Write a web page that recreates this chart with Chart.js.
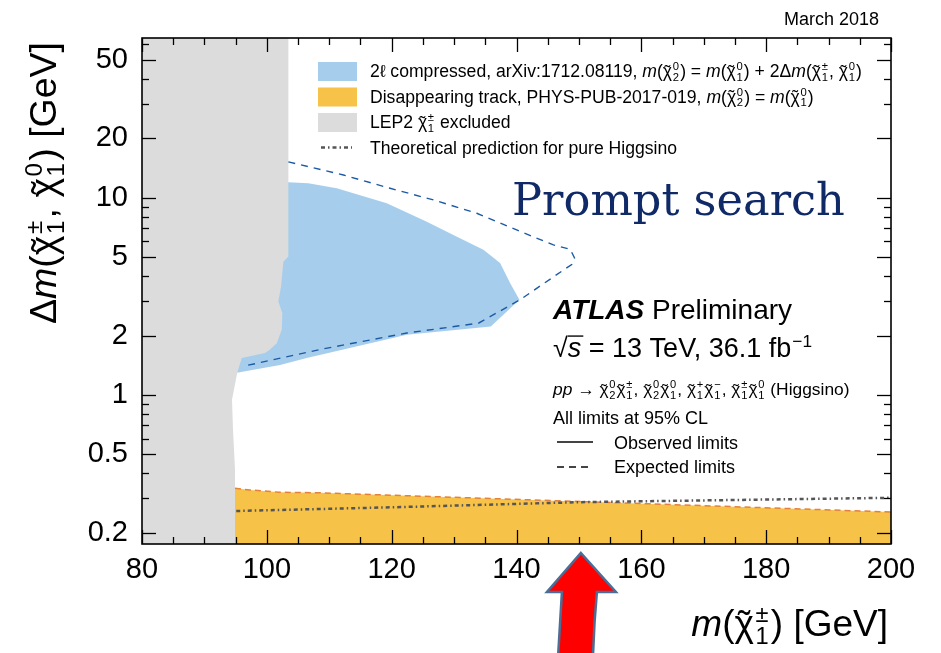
<!DOCTYPE html>
<html>
<head>
<meta charset="utf-8">
<script src="https://cdn.jsdelivr.net/npm/chart.js@4.4.1/dist/chart.umd.min.js"></script>
<style>
  body { margin: 0; background: #fff; }
</style>
</head>
<body>
<canvas id="chart" width="941" height="653"></canvas>
<script>
// LEP2 excluded region (outline)
const lepMass = [80, 103.45, 103.45, 102.65, 102.28, 101.84, 102.48, 102.39, 101.59, 100.51, 99.71, 95.98, 95.27, 94.42, 94.58, 94.9, 94.9, 80];
const lepDm = [70, 70, 5.03, 4.74, 3.55, 2.98, 2.6, 2.14, 1.83, 1.7, 1.63, 1.54, 1.3, 0.947, 0.667, 0.419, 0.17, 0.17];

// 2l compressed, observed excluded region (outline)
const obsMass = [103.45, 106.65, 111.2, 119.22, 125.63, 129.89, 134.7, 137.37, 138.97, 140.47, 135.88, 122.42, 106.39, 102.12, 95.43, 93, 93];
const obsDm = [11.96, 11.83, 11.16, 9.37, 7.56, 6.47, 5.44, 4.66, 3.69, 3.04, 2.22, 2.02, 1.54, 1.42, 1.3, 1.3, 11.96];

// 2l compressed, expected limit
const expMass = [103.45, 112.27, 119.74, 126.69, 133.63, 140.03, 145.91, 148.59, 149.3, 148.9, 140.58, 133.9, 122.42, 108.53, 96.78];
const expDm = [15.2, 13.03, 11.16, 9.74, 8.34, 6.86, 5.76, 5.48, 4.95, 4.6, 3.04, 2.31, 2.06, 1.7, 1.41];

// Disappearing track, upper edge of excluded region
const dtMass = [94.9, 97.3, 102.1, 108.5, 153.4, 200];
const dtDm = [0.336, 0.33, 0.321, 0.319, 0.286, 0.255];

// Pure higgsino prediction
const thMass = [95.1, 121.4, 150, 200];
const thDm = [0.258, 0.27, 0.286, 0.301];

// Axis ticks
const yTicks = [0.2, 0.3, 0.4, 0.5, 0.6, 0.7, 0.8, 0.9, 1, 2, 3, 4, 5, 6, 7, 8, 9, 10, 20, 30, 40, 50, 60];
const yLabels = [0.2, 0.5, 1, 2, 5, 10, 20, 50];
const xLabelStep = 20;
const arrowMass = 150;

const FONT = '"Liberation Sans", Arial, Helvetica, sans-serif';
const GREY = '#dcdcdc';
const BLUE = 'rgb(166,206,236)';
const ORANGE = 'rgb(247,194,72)';

const pts = (xs, ys) => xs.map((x, i) => ({ x: x, y: ys[i] }));

// --- small rich text helper (italic, tilde, sub/superscripts) ---
function fontFor(p, size) {
  return `${p.i ? 'italic ' : ''}${p.b ? 'bold ' : ''}${size}px ${FONT}`;
}

function layoutRich(ctx, parts, size) {
  let w = 0;
  const items = [];
  parts.forEach(raw => {
    const p = typeof raw === 'string' ? { t: raw } : raw;
    ctx.font = fontFor(p, size);
    const item = { p: p, x: w, tw: p.t ? ctx.measureText(p.t).width : 0 };
    w += item.tw;
    if (p.sup || p.sub) {
      ctx.font = fontFor({}, size * 0.64);
      const sw = Math.max(p.sup ? ctx.measureText(p.sup).width : 0, p.sub ? ctx.measureText(p.sub).width : 0);
      item.sx = w + size * 0.04;
      w += sw + size * 0.1;
    }
    items.push(item);
  });
  return { items: items, width: w };
}

function drawRich(ctx, parts, x, y, size, align, color) {
  const { items, width } = layoutRich(ctx, parts, size);
  const x0 = align === 'right' ? x - width : align === 'center' ? x - width / 2 : x;
  ctx.save();
  ctx.fillStyle = color || '#000';
  ctx.textAlign = 'left';
  ctx.textBaseline = 'alphabetic';
  items.forEach(it => {
    const p = it.p;
    if (p.t) {
      ctx.font = fontFor(p, size);
      ctx.fillText(p.t, x0 + it.x, y);
    }
    if (p.tilde) {
      ctx.font = fontFor({}, size);
      const tw = ctx.measureText('˜').width;
      ctx.fillText('˜', x0 + it.x + (it.tw - tw) / 2, y + size * 0.04);
    }
    if (p.over) {
      ctx.fillRect(x0 + it.x, y - size * 0.8, it.tw + 2, Math.max(1, size * 0.05));
    }
    if (p.sup || p.sub) {
      ctx.font = fontFor({}, size * 0.64);
      if (p.sup) ctx.fillText(p.sup, x0 + it.sx, y - size * 0.38);
      if (p.sub) ctx.fillText(p.sub, x0 + it.sx, y + size * 0.22);
    }
  });
  ctx.restore();
  return width;
}

const chi = (sup, sub) => ({ t: 'χ', tilde: true, sup: sup, sub: sub });
const m = { t: 'm', i: true };

const legendRows = [
  { color: BLUE, parts: ['2ℓ compressed, arXiv:1712.08119, ', m, '(', chi('0', '2'), ') = ', m, '(', chi('0', '1'), ') + 2Δ', m, '(', chi('±', '1'), ', ', chi('0', '1'), ')'] },
  { color: ORANGE, parts: ['Disappearing track, PHYS-PUB-2017-019, ', m, '(', chi('0', '2'), ') = ', m, '(', chi('0', '1'), ')'] },
  { color: GREY, parts: ['LEP2 ', chi('±', '1'), ' excluded'] },
  { dashDot: true, parts: ['Theoretical prediction for pure Higgsino'] }
];

// Inward ticks on all four sides plus the frame
const frameTicks = {
  id: 'frameTicks',
  afterDatasetsDraw(chart) {
    const { ctx, chartArea: a, scales: { x, y } } = chart;
    const seg = (x1, y1, x2, y2) => { ctx.beginPath(); ctx.moveTo(x1, y1); ctx.lineTo(x2, y2); ctx.stroke(); };
    ctx.save();
    ctx.strokeStyle = '#000';
    ctx.lineWidth = 1.3;
    x.ticks.forEach(t => {
      const px = Math.round(x.getPixelForValue(t.value)) + 0.5;
      const len = t.value % xLabelStep === 0 ? 14 : 7;
      seg(px, a.bottom, px, a.bottom - len);
      seg(px, a.top, px, a.top + len);
    });
    y.ticks.forEach(t => {
      const py = Math.round(y.getPixelForValue(t.value)) + 0.5;
      const len = yLabels.includes(t.value) ? 14 : 7;
      seg(a.left, py, a.left + len, py);
      seg(a.right, py, a.right - len, py);
    });
    ctx.lineWidth = 1.6;
    ctx.strokeRect(a.left, a.top, a.right - a.left, a.bottom - a.top);
    ctx.restore();
  }
};

// Legend, labels, axis titles and the arrow
const annotations = {
  id: 'annotations',
  afterDraw(chart) {
    const { ctx, chartArea: a, scales: { x } } = chart;
    ctx.save();

    drawRich(ctx, ['March 2018'], 879, 25, 18, 'right');

    // legend
    legendRows.forEach((row, i) => {
      const cy = 71 + i * 25.5;
      if (row.dashDot) {
        ctx.strokeStyle = '#555';
        ctx.lineWidth = 2.5;
        ctx.setLineDash([4, 3, 1.5, 3]);
        ctx.beginPath(); ctx.moveTo(321, cy); ctx.lineTo(352, cy); ctx.stroke();
        ctx.setLineDash([]);
      } else {
        ctx.fillStyle = row.color;
        ctx.fillRect(318, cy - 9, 39, 19);
      }
      drawRich(ctx, row.parts, 370, cy + 6, 17.6, 'left');
    });

    // Prompt search
    ctx.font = `45px "DejaVu Serif", serif`;
    const size = 45 * 333 / ctx.measureText('Prompt search').width;
    ctx.font = `${size}px "DejaVu Serif", serif`;
    ctx.fillStyle = '#102a68';
    ctx.textAlign = 'left';
    ctx.fillText('Prompt search', 512, 215);

    // ATLAS block
    drawRich(ctx, [{ t: 'ATLAS', i: true, b: true }, ' Preliminary'], 553, 319, 28, 'left');
    drawRich(ctx, ['√', { t: 's', i: true, over: true }, ' = 13 TeV, 36.1 fb', { t: '', sup: '−1' }], 553, 357, 27, 'left');
    drawRich(ctx, [{ t: 'pp', i: true }, ' → ', chi('0', '2'), chi('±', '1'), ', ', chi('0', '2'), chi('0', '1'), ', ',
      chi('+', '1'), chi('−', '1'), ', ', chi('±', '1'), chi('0', '1'), ' (Higgsino)'], 553, 395, 17.4, 'left');
    drawRich(ctx, ['All limits at 95% CL'], 553, 424, 18, 'left');
    ctx.strokeStyle = '#444';
    ctx.lineWidth = 2;
    ctx.beginPath(); ctx.moveTo(557, 442); ctx.lineTo(593, 442); ctx.stroke();
    ctx.setLineDash([7, 5]);
    ctx.beginPath(); ctx.moveTo(557, 467); ctx.lineTo(593, 467); ctx.stroke();
    ctx.setLineDash([]);
    drawRich(ctx, ['Observed limits'], 614, 449, 18, 'left');
    drawRich(ctx, ['Expected limits'], 614, 473, 18, 'left');

    // axis titles
    drawRich(ctx, [m, '(', chi('±', '1'), ') [GeV]'], 888, 636, 37, 'right');
    ctx.save();
    ctx.translate(56, 42);
    ctx.rotate(-Math.PI / 2);
    drawRich(ctx, ['Δ', m, '(', chi('±', '1'), ', ', chi('0', '1'), ') [GeV]'], 0, 0, 37.5, 'right');
    ctx.restore();

    // red arrow pointing at the mass of interest
    const ax = x.getPixelForValue(arrowMass) + 2;
    ctx.beginPath();
    ctx.moveTo(ax, a.bottom + 9);
    ctx.lineTo(ax + 35, a.bottom + 48);
    ctx.lineTo(ax + 16, a.bottom + 48);
    ctx.quadraticCurveTo(ax + 13, a.bottom + 80, ax + 12, a.bottom + 115);
    ctx.lineTo(ax - 23, a.bottom + 115);
    ctx.quadraticCurveTo(ax - 21, a.bottom + 80, ax - 19, a.bottom + 48);
    ctx.lineTo(ax - 34, a.bottom + 48);
    ctx.closePath();
    ctx.fillStyle = '#ff0000';
    ctx.fill();
    ctx.strokeStyle = '#4a6e98';
    ctx.lineWidth = 2.5;
    ctx.stroke();

    ctx.restore();
  }
};

const ctx = document.getElementById('chart').getContext('2d');
const myChart = new Chart(ctx, {
  type: 'line',
  data: {
    datasets: [
      {
        label: 'Theoretical prediction for pure Higgsino',
        data: pts(thMass, thDm),
        borderColor: '#555',
        borderWidth: 2.5,
        borderDash: [4, 3, 1.5, 3],
        fill: false
      },
      {
        label: '2l expected',
        data: pts(expMass, expDm),
        borderColor: '#1c5aa6',
        borderWidth: 1.4,
        borderDash: [7, 6],
        fill: false
      },
      {
        label: 'LEP2 excluded',
        data: pts(lepMass, lepDm),
        borderWidth: 0,
        backgroundColor: GREY,
        fill: 'shape'
      },
      {
        label: '2l compressed',
        data: pts(obsMass, obsDm),
        borderWidth: 0,
        backgroundColor: BLUE,
        fill: 'shape'
      },
      {
        label: 'Disappearing track',
        data: pts(dtMass, dtDm),
        borderColor: '#e5813a',
        borderWidth: 1.5,
        borderDash: [6, 4],
        backgroundColor: ORANGE,
        fill: 'start'
      }
    ]
  },
  options: {
    responsive: false,
    devicePixelRatio: 1,
    animation: false,
    layout: { padding: { left: 0, top: 38, right: 50, bottom: 0 } },
    elements: { point: { radius: 0 }, line: { tension: 0 } },
    plugins: { legend: { display: false }, tooltip: { enabled: false } },
    scales: {
      x: {
        type: 'linear',
        min: 80,
        max: 200,
        afterFit: s => { s.height = 109; },
        grid: { display: false, drawTicks: false },
        border: { display: false },
        ticks: {
          stepSize: 5,
          autoSkip: false,
          maxRotation: 0,
          padding: 9,
          color: '#000',
          font: { family: FONT, size: 29 },
          callback: v => (v % xLabelStep === 0 ? String(v) : '')
        }
      },
      y: {
        type: 'logarithmic',
        min: 0.1755,
        max: 64.5,
        afterBuildTicks: s => { s.ticks = yTicks.map(v => ({ value: v })); },
        afterFit: s => { s.width = 142; },
        grid: { display: false, drawTicks: false },
        border: { display: false },
        ticks: {
          autoSkip: false,
          padding: 14,
          color: '#000',
          font: { family: FONT, size: 29 },
          callback: v => (yLabels.includes(v) ? String(v) : '')
        }
      }
    }
  },
  plugins: [frameTicks, annotations]
});
</script>
</body>
</html>
